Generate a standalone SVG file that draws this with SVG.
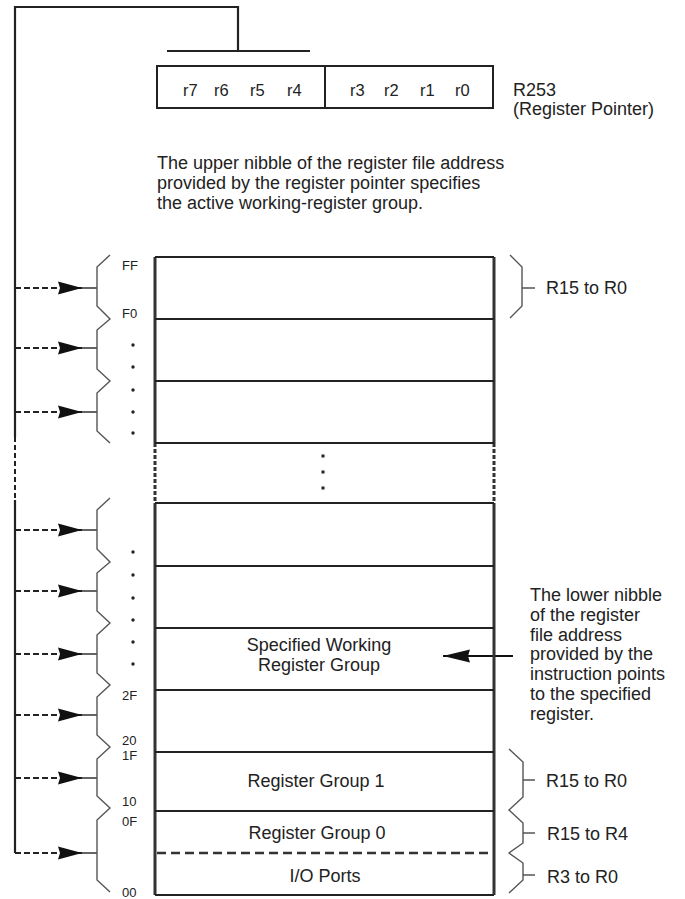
<svg xmlns="http://www.w3.org/2000/svg" width="685" height="899" viewBox="0 0 685 899">
<style>
text{font-family:"Liberation Sans",Arial,sans-serif;fill:#222}
.t{font-size:18px}
.r{font-size:16.5px}
.a{font-size:13px}
.box{fill:none;stroke:#222;stroke-width:2}
.edge{stroke:#333;stroke-width:3;fill:none}
.sep{stroke:#222;stroke-width:2.2}
.br{fill:none;stroke:#555;stroke-width:1.4;stroke-linejoin:miter}
.dash{stroke:#222;stroke-width:2;stroke-dasharray:6,3;fill:none}
.solid{stroke:#222;stroke-width:2.2;fill:none}
.dot{fill:#222}
</style>
<defs>
<marker id="ah" markerWidth="24" markerHeight="14" refX="24" refY="7" orient="auto" markerUnits="userSpaceOnUse">
<path d="M0,0.5 L24,7 L0,13.5 L2,7 Z" fill="#111"/>
</marker>
<marker id="ahl" markerWidth="27" markerHeight="14" refX="27" refY="7" orient="auto" markerUnits="userSpaceOnUse">
<path d="M0,0.5 L27,7 L0,13.5 L2,7 Z" fill="#111"/>
</marker>
</defs>

<g id="connectors">
<path class="solid" d="M167,51 H310 M238,51 V7 H15 V437"/>
<path class="dash" d="M15,437 V500" style="stroke-dasharray:5,3"/>
<path class="solid" d="M15,500 V853"/>
<g id="group-arrows">
<path class="dash" d="M15,288 H82" marker-end="url(#ah)"/>
<path class="dash" d="M15,348 H82" marker-end="url(#ah)"/>
<path class="dash" d="M15,412 H82" marker-end="url(#ah)"/>
<path class="dash" d="M15,530 H82" marker-end="url(#ah)"/>
<path class="dash" d="M15,591 H82" marker-end="url(#ah)"/>
<path class="dash" d="M15,654 H82" marker-end="url(#ah)"/>
<path class="dash" d="M15,715 H82" marker-end="url(#ah)"/>
<path class="dash" d="M15,778 H82" marker-end="url(#ah)"/>
<path class="dash" d="M15,853 H82" marker-end="url(#ah)"/>
<path stroke="#333" stroke-width="1.4" d="M82,288 H97 M82,348 H97 M82,412 H97 M82,530 H97 M82,591 H97 M82,654 H97 M82,715 H97 M82,778 H97 M82,853 H97"/>
</g>
<path id="pointer-arrow" stroke="#111" stroke-width="2.2" d="M513,656 H443" marker-end="url(#ahl)"/>
</g>

<g id="register-pointer">
<rect class="box" x="157" y="66" width="336" height="42"/>
<line class="box" x1="325" y1="66" x2="325" y2="108"/>
<text class="r" x="183" y="96">r7</text>
<text class="r" x="214" y="96">r6</text>
<text class="r" x="250" y="96">r5</text>
<text class="r" x="287" y="96">r4</text>
<text class="r" x="350" y="96">r3</text>
<text class="r" x="384" y="96">r2</text>
<text class="r" x="420" y="96">r1</text>
<text class="r" x="455" y="96">r0</text>
<text class="t" x="513" y="96">R253</text>
<text class="t" x="513" y="115">(Register Pointer)</text>
</g>

<g id="upper-note">
<text class="t" x="157" y="169">The upper nibble of the register file address</text>
<text class="t" x="157" y="189">provided by the register pointer specifies</text>
<text class="t" x="157" y="209">the active working-register group.</text>
</g>

<g id="register-file">
<path class="edge" d="M155,257 V443 M494,257 V443 M155,503 V895 M494,503 V895"/>
<path stroke="#333" stroke-width="3" stroke-dasharray="4,2" d="M155,443 V503 M494,443 V503"/>
<path class="sep" d="M155,257 H494 M155,319 H494 M155,381 H494 M155,443 H494 M155,503 H494 M155,566 H494 M155,628 H494 M155,690 H494 M155,752 H494 M155,811 H494 M155,895 H494"/>
<g id="gap-dots">
<rect class="dot" x="321.5" y="454.5" width="3" height="3"/>
<rect class="dot" x="321.5" y="470.5" width="3" height="3"/>
<rect class="dot" x="321.5" y="486.5" width="3" height="3"/>
</g>
</g>

<g id="specified-group">
<text class="t" x="319" y="651" text-anchor="middle">Specified Working</text>
<text class="t" x="319" y="671" text-anchor="middle">Register Group</text>
</g>
<g id="register-group-1">
<text class="t" x="316" y="787" text-anchor="middle">Register Group 1</text>
</g>
<g id="register-group-0">
<text class="t" x="317" y="839" text-anchor="middle">Register Group 0</text>
<path stroke="#333" stroke-width="2.5" stroke-dasharray="9,5" d="M157,853 H492"/>
</g>
<g id="io-ports">
<text class="t" x="325" y="882" text-anchor="middle">I/O Ports</text>
</g>

<g id="left-braces">
<path class="br" d="M110,255 L97,267 V306 L110,319 L97,330 V369 L110,381 L97,393 V431 L110,443"/>
<path class="br" d="M110,498 L97,510 V549 L110,562 L97,573 V611 L110,623 L97,635 V673 L110,685 L97,697 V735 L110,747 L97,759 V796 L110,808 L97,820 V880 L110,892"/>
</g>

<g id="address-labels">
<text class="a" x="122" y="270">FF</text>
<text class="a" x="122" y="318">F0</text>
<text class="a" x="122" y="700">2F</text>
<text class="a" x="122" y="745">20</text>
<text class="a" x="122" y="760">1F</text>
<text class="a" x="122" y="806">10</text>
<text class="a" x="122" y="826">0F</text>
<text class="a" x="122" y="897">00</text>
<circle class="dot" cx="133" cy="345" r="1.7"/>
<circle class="dot" cx="133" cy="367" r="1.7"/>
<circle class="dot" cx="133" cy="390" r="1.7"/>
<circle class="dot" cx="133" cy="412" r="1.7"/>
<circle class="dot" cx="133" cy="433" r="1.7"/>
<circle class="dot" cx="133" cy="552" r="1.7"/>
<circle class="dot" cx="133" cy="575" r="1.7"/>
<circle class="dot" cx="133" cy="598" r="1.7"/>
<circle class="dot" cx="133" cy="620" r="1.7"/>
<circle class="dot" cx="133" cy="642" r="1.7"/>
<circle class="dot" cx="133" cy="664" r="1.7"/>
</g>

<g id="right-braces">
<path class="br" d="M510,255 L522,267 V306 L510,318 M522,288 H535"/>
<text class="t" x="546" y="294">R15 to R0</text>
<path class="br" d="M509,749 L523,762 V797 L509,810 L523,823 V843 L509,853 L523,863 V880 L509,893 M523,780 H535 M523,833 H535 M523,875 H535"/>
<text class="t" x="546" y="787">R15 to R0</text>
<text class="t" x="547" y="840">R15 to R4</text>
<text class="t" x="547" y="883">R3 to R0</text>
</g>

<g id="lower-note">
<text class="t" x="530" y="601">The lower nibble</text>
<text class="t" x="530" y="621">of the register</text>
<text class="t" x="530" y="641">file address</text>
<text class="t" x="530" y="660">provided by the</text>
<text class="t" x="530" y="680">instruction points</text>
<text class="t" x="530" y="700">to the specified</text>
<text class="t" x="530" y="720">register.</text>
</g>
</svg>
